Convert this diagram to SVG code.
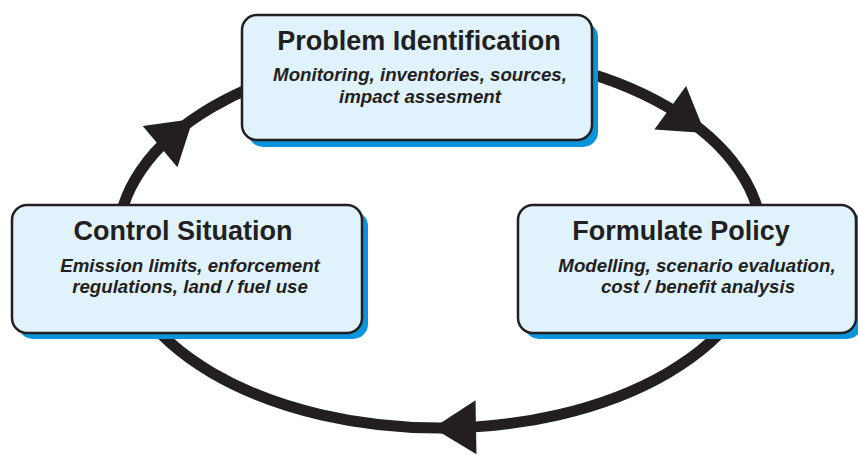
<svg xmlns="http://www.w3.org/2000/svg" width="858" height="455" viewBox="0 0 858 455">
<defs>
<style>
.cycle{fill:none;stroke:#231f20;stroke-width:11}
.head{fill:#231f20}
.shadow{fill:#0b94d9}
.box{fill:#e0f2fc;stroke:#231f20;stroke-width:2.5}
.title{font-family:"Liberation Sans",Arial,sans-serif;font-weight:bold;font-size:27px;fill:#231f20;text-anchor:middle}
.sub{font-family:"Liberation Sans",Arial,sans-serif;font-weight:bold;font-style:italic;font-size:18.7px;fill:#231f20;text-anchor:middle}
</style>
<polygon id="ah" class="head" points="0,0 -43,-27 -43,27"/>
</defs>
<rect width="858" height="455" fill="#ffffff"/>
<g id="connectors">
<path id="c-problem-formulate" class="cycle" d="M 440 52 A 322 188 0 0 1 762 240"/>
<path id="c-formulate-control" class="cycle" d="M 762 240 A 322 188 0 0 1 118 240"/>
<path id="c-control-problem" class="cycle" d="M 118 240 A 322 188 0 0 1 440 52"/>
<use href="#ah" transform="translate(193,119) rotate(-40)"/>
<use href="#ah" transform="translate(705,133) rotate(36)"/>
<use href="#ah" transform="translate(433,428) rotate(179)"/>
</g>
<g id="node-problem">
<rect class="shadow" x="248" y="22" width="350" height="125" rx="15"/>
<rect class="box" x="242" y="15" width="350" height="125" rx="15"/>
<text class="title" x="419" y="50">Problem Identification</text>
<text class="sub" x="420" y="81">Monitoring, inventories, sources,</text>
<text class="sub" x="420" y="103">impact assesment</text>
</g>
<g id="node-control">
<rect class="shadow" x="18" y="211" width="350" height="128" rx="15"/>
<rect class="box" x="12" y="205" width="350" height="128" rx="15"/>
<text class="title" x="183" y="240">Control Situation</text>
<text class="sub" x="190" y="272">Emission limits, enforcement</text>
<text class="sub" x="190" y="293">regulations, land / fuel use</text>
</g>
<g id="node-formulate">
<rect class="shadow" x="524" y="211" width="338" height="128" rx="15"/>
<rect class="box" x="518" y="205" width="338" height="128" rx="15"/>
<text class="title" x="681" y="240">Formulate Policy</text>
<text class="sub" x="697" y="272">Modelling, scenario evaluation,</text>
<text class="sub" x="698" y="293">cost / benefit analysis</text>
</g>
</svg>
